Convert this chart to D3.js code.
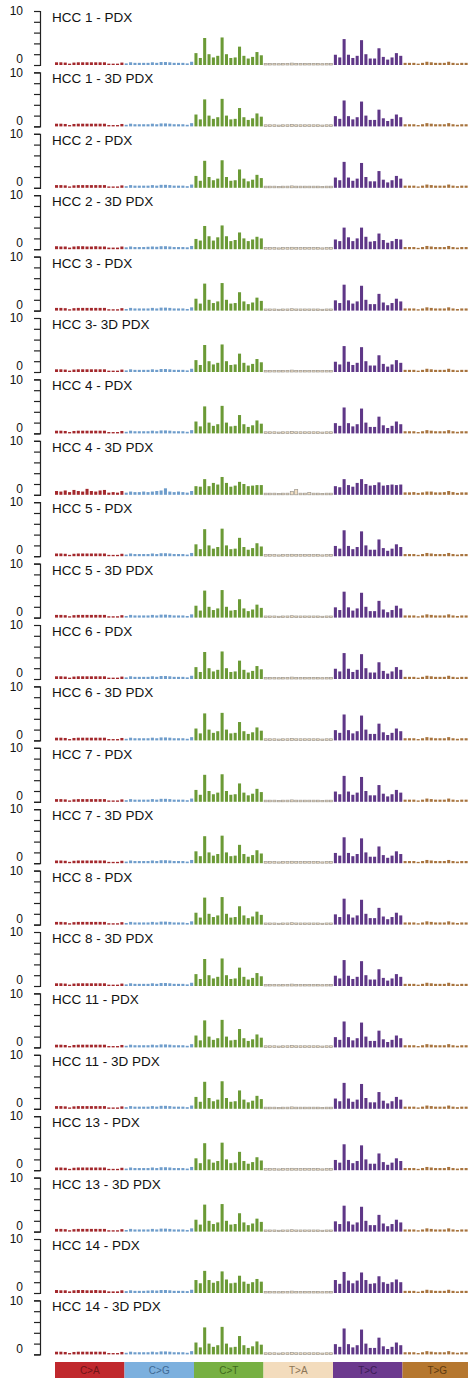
<!DOCTYPE html>
<html>
<head>
<meta charset="utf-8">
<script src="https://cdn.jsdelivr.net/npm/d3@7"></script>
<style>
  body { margin: 0; background: #fff; }
  svg { display: block; font-family: "Liberation Sans", Arial, sans-serif; }
</style>
</head>
<body>
<svg width="468" height="1380"></svg>
<script>
// sample panel titles, top to bottom
const samples = [
  "HCC 1 - PDX", "HCC 1 - 3D PDX", "HCC 2 - PDX", "HCC 2 - 3D PDX",
  "HCC 3 - PDX", "HCC 3- 3D PDX", "HCC 4 - PDX", "HCC 4 - 3D PDX",
  "HCC 5 - PDX", "HCC 5 - 3D PDX", "HCC 6 - PDX", "HCC 6 - 3D PDX",
  "HCC 7 - PDX", "HCC 7 - 3D PDX", "HCC 8 - PDX", "HCC 8 - 3D PDX",
  "HCC 11 - PDX", "HCC 11 - 3D PDX", "HCC 13 - PDX", "HCC 13 - 3D PDX",
  "HCC 14 - PDX", "HCC 14 - 3D PDX"
];

const mutationTypes = ["C>A", "C>G", "C>T", "T>A", "T>C", "T>G"];
const yTicks = [0, 2, 4, 6, 8, 10];
const yTickLabels = ["0", "", "", "", "", "10"];

// percent of mutations per trinucleotide context, 16 per mutation type
const profileCommon = [
  0.5, 0.5, 0.45, 0.25, 0.45, 0.5, 0.5, 0.5, 0.5, 0.5, 0.5, 0.5, 0.25, 0.25, 0.25, 0.45,
  0.3, 0.5, 0.4, 0.4, 0.4, 0.4, 0.5, 0.4, 0.55, 0.55, 0.5, 0.4, 0.4, 0.4, 0.3, 0.6,
  2.2, 1.3, 5.0, 2.0, 1.4, 1.7, 5.1, 2.0, 1.3, 1.4, 3.4, 1.7, 1.2, 1.5, 2.4, 1.8,
  0.3, 0.3, 0.3, 0.25, 0.3, 0.3, 0.35, 0.3, 0.3, 0.3, 0.3, 0.3, 0.3, 0.25, 0.3, 0.3,
  1.9, 1.4, 4.8, 1.9, 1.3, 1.7, 4.6, 2.0, 1.2, 1.2, 3.1, 1.5, 1.0, 1.4, 2.2, 1.7,
  0.4, 0.4, 0.4, 0.25, 0.4, 0.6, 0.5, 0.4, 0.4, 0.4, 0.6, 0.4, 0.3, 0.4, 0.4, 0.4
];
const profileHcc2_3d = [
  0.55, 0.5, 0.5, 0.3, 0.5, 0.55, 0.55, 0.5, 0.5, 0.55, 0.5, 0.5, 0.3, 0.3, 0.3, 0.5,
  0.35, 0.5, 0.4, 0.4, 0.4, 0.45, 0.5, 0.45, 0.55, 0.55, 0.5, 0.4, 0.4, 0.4, 0.35, 0.6,
  1.9, 1.6, 4.3, 2.4, 1.6, 2.2, 4.4, 2.4, 1.5, 1.7, 3.1, 2.0, 1.5, 1.8, 2.3, 2.0,
  0.3, 0.3, 0.3, 0.25, 0.3, 0.3, 0.35, 0.3, 0.3, 0.3, 0.3, 0.3, 0.3, 0.25, 0.3, 0.3,
  1.8, 1.5, 4.0, 2.2, 1.5, 2.0, 4.0, 2.3, 1.4, 1.5, 2.9, 1.7, 1.2, 1.5, 1.9, 1.8,
  0.4, 0.4, 0.4, 0.25, 0.4, 0.6, 0.5, 0.4, 0.4, 0.4, 0.6, 0.4, 0.3, 0.4, 0.4, 0.4
];
const profileHcc4_3d = [
  0.7, 0.6, 0.8, 0.5, 0.9, 0.7, 0.6, 1.1, 0.7, 0.6, 0.8, 0.9, 0.4, 0.5, 0.4, 0.7,
  0.4, 0.6, 0.5, 0.5, 0.6, 0.5, 0.6, 0.7, 0.8, 1.2, 0.6, 0.5, 0.6, 0.5, 0.4, 0.7,
  1.6, 1.5, 2.9, 1.6, 2.2, 1.9, 3.3, 2.2, 1.5, 1.7, 2.4, 2.0, 1.6, 1.7, 1.8, 1.8,
  0.3, 0.3, 0.3, 0.25, 0.3, 0.3, 0.6, 1.0, 0.3, 0.3, 0.4, 0.3, 0.3, 0.25, 0.3, 0.3,
  1.6, 1.4, 2.9, 1.8, 1.5, 2.2, 2.9, 2.0, 1.7, 1.8, 2.3, 1.7, 1.8, 1.9, 1.8, 1.9,
  0.45, 0.45, 0.5, 0.35, 0.45, 0.6, 0.6, 0.45, 0.45, 0.5, 0.7, 0.5, 0.35, 0.45, 0.45, 0.45
];
const profileHcc14 = [
  0.55, 0.5, 0.5, 0.3, 0.5, 0.55, 0.55, 0.5, 0.5, 0.55, 0.5, 0.5, 0.3, 0.3, 0.3, 0.5,
  0.35, 0.5, 0.4, 0.4, 0.4, 0.45, 0.5, 0.45, 0.55, 0.55, 0.5, 0.4, 0.4, 0.4, 0.35, 0.6,
  2.4, 1.8, 4.1, 2.4, 1.9, 2.2, 4.0, 2.5, 1.8, 1.9, 3.2, 2.1, 1.7, 2.0, 2.6, 2.1,
  0.3, 0.3, 0.3, 0.25, 0.3, 0.3, 0.35, 0.3, 0.3, 0.3, 0.3, 0.3, 0.3, 0.25, 0.3, 0.3,
  2.4, 1.7, 3.9, 2.3, 1.8, 2.3, 3.8, 2.4, 1.7, 1.8, 3.1, 2.0, 1.7, 2.0, 2.5, 2.0,
  0.4, 0.4, 0.4, 0.25, 0.4, 0.6, 0.5, 0.4, 0.4, 0.4, 0.6, 0.4, 0.3, 0.4, 0.4, 0.4
];
// which profile each sample shows
const sampleProfiles = [
  profileCommon, profileCommon, profileCommon, profileHcc2_3d,
  profileCommon, profileCommon, profileCommon, profileHcc4_3d,
  profileCommon, profileCommon, profileCommon, profileCommon,
  profileCommon, profileCommon, profileCommon, profileCommon,
  profileCommon, profileCommon, profileCommon, profileCommon,
  profileHcc14, profileCommon
];

const barColors = ["#a3282c", "#6f9dcb", "#6b9a36", "#f1dfc4", "#5f3787", "#a7733d"];
const legendColors = ["#c0282d", "#7cb0de", "#77b043", "#f3dcbd", "#6c3a8e", "#b5772f"];
const legendText = ["#6e1518", "#3f6a94", "#3f6a1e", "#8b7557", "#3b1d55", "#5e3b12"];

const svg = d3.select("svg");

const x = d3.scaleBand()
  .domain(d3.range(96))
  .range([55, 472])
  .paddingInner(0.3);

const panelPitch = 61.4;
const panelHeight = 54;
const firstBase = 65;

samples.forEach((name, i) => {
  const base = firstBase + i * panelPitch;
  const y = d3.scaleLinear().domain([0, 10]).range([base, base - panelHeight]);
  const g = svg.append("g");

  const axis = g.append("g")
    .attr("transform", "translate(40,0)")
    .call(d3.axisLeft(y).tickValues(yTicks).tickSize(6).tickPadding(11)
      .tickFormat((d, k) => yTickLabels[k]));
  axis.select(".domain").attr("stroke", "#222").attr("stroke-width", 1.2);
  axis.selectAll(".tick line").attr("stroke", "#222").attr("stroke-width", 1.2);
  axis.selectAll(".tick text")
    .attr("font-size", 12)
    .attr("fill", "#111")
    .attr("dy", d => d === 0 ? "-0.2em" : "0.3em");

  g.append("text")
    .attr("x", 52)
    .attr("y", base - panelHeight + 11)
    .attr("font-size", 13.5)
    .attr("fill", "#111")
    .text(name);

  g.selectAll("rect")
    .data(sampleProfiles[i])
    .enter()
    .append("rect")
    .attr("x", (d, k) => x(k))
    .attr("width", x.bandwidth())
    .attr("y", d => y(d))
    .attr("height", d => base - y(d))
    .attr("fill", (d, k) => barColors[Math.floor(k / 16)])
    .attr("stroke", (d, k) => Math.floor(k / 16) === 3 ? "#9d988f" : "none")
    .attr("stroke-width", 0.7);
});

// mutation type legend strip
const legend = svg.append("g");
const groupX = d3.scaleBand().domain(mutationTypes).range([55, 472]);
legend.selectAll("rect")
  .data(mutationTypes)
  .enter()
  .append("rect")
  .attr("x", d => groupX(d))
  .attr("y", 1362)
  .attr("width", groupX.bandwidth())
  .attr("height", 16)
  .attr("fill", (d, k) => legendColors[k]);
legend.selectAll("text")
  .data(mutationTypes)
  .enter()
  .append("text")
  .attr("x", d => groupX(d) + groupX.bandwidth() / 2)
  .attr("y", 1374)
  .attr("text-anchor", "middle")
  .attr("font-size", 10)
  .attr("fill", (d, k) => legendText[k])
  .text(d => d);
</script>
</body>
</html>
